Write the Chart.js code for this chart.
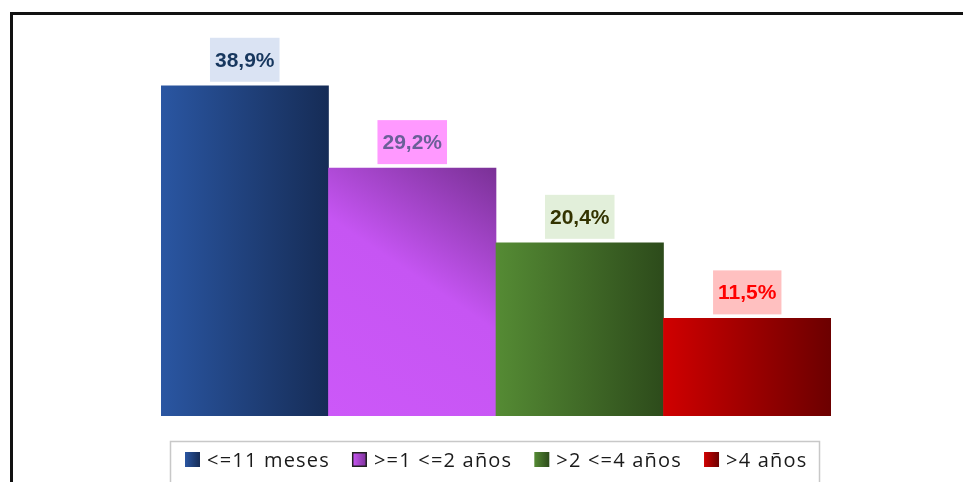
<!DOCTYPE html>
<html>
<head>
<meta charset="utf-8">
<script src="https://cdn.jsdelivr.net/npm/chart.js@4"></script>
<style>
  html, body { margin: 0; padding: 0; background: #fff; }
  #wrap { width: 963px; height: 482px; }
</style>
</head>
<body>
<div id="wrap"><canvas id="chart" width="963" height="482"></canvas></div>
<script>
// chart data
const categories = ["<=11 meses", ">=1 <=2 años", ">2 <=4 años", ">4 años"];
const values = [38.9, 29.2, 20.4, 11.5];
const valueLabels = ["38,9%", "29,2%", "20,4%", "11,5%"];

// colours: [gradient start, gradient end], label box fill, label text
const barColors = [["#2A56A2", "#162C56"], ["#CC58F8", "#7A3196"], ["#558B34", "#2D4B1B"], ["#D00000", "#6C0000"]];
const labelBoxColors = ["#DAE3F3", "#FF99FF", "#E2EFDA", "#FFC0C0"];
const labelTextColors = ["#17375E", "#6A5F98", "#333300", "#FF0000"];

function barGradient(chart, i) {
    const xs = chart.scales.x;
    const ys = chart.scales.y;
    const ca = chart.chartArea;
    const w = xs.width / categories.length;
    const cx = xs.getPixelForValue(i);
    let g;
    if (i === 1) {
        // diagonal shading on the purple bar
        const top = ys.getPixelForValue(values[i]);
        g = chart.ctx.createLinearGradient(cx - w / 2, ca.bottom, cx + w / 2, top);
        g.addColorStop(0, barColors[i][0]);
        g.addColorStop(0.55, "#C655F3");
        g.addColorStop(1, barColors[i][1]);
    } else {
        g = chart.ctx.createLinearGradient(cx - w / 2, 0, cx + w / 2, 0);
        g.addColorStop(0, barColors[i][0]);
        g.addColorStop(1, barColors[i][1]);
    }
    return g;
}

// frame around the whole thing
const framePlugin = {
    id: "frame",
    beforeDraw(chart) {
        const c = chart.ctx;
        c.save();
        c.strokeStyle = "#111";
        c.lineWidth = 3;
        c.beginPath();
        c.moveTo(11.5, 482);
        c.lineTo(11.5, 13.5);
        c.lineTo(963, 13.5);
        c.stroke();
        c.restore();
    }
};

// value labels with coloured boxes
const valueLabelPlugin = {
    id: "valueLabels",
    afterDatasetsDraw(chart) {
        const c = chart.ctx;
        const meta = chart.getDatasetMeta(0);
        c.save();
        c.font = "bold 21px 'Liberation Sans', Arial, sans-serif";
        c.textAlign = "center";
        c.textBaseline = "middle";
        meta.data.forEach((bar, i) => {
            const tw = c.measureText(valueLabels[i]).width;
            const bw = tw + 10, bh = 44;
            const bottom = bar.y - 4;
            c.fillStyle = labelBoxColors[i];
            c.fillRect(bar.x - bw / 2, bottom - bh, bw, bh);
            c.fillStyle = labelTextColors[i];
            c.fillText(valueLabels[i], bar.x, bottom - bh / 2 + 1);
        });
        c.restore();
    }
};

// legend in a grey box under the bars
const legendPlugin = {
    id: "boxLegend",
    afterDraw(chart) {
        const c = chart.ctx;
        c.save();
        c.strokeStyle = "#C8C8C8";
        c.lineWidth = 1.5;
        c.strokeRect(170.5, 441.5, 649, 60);
        c.font = "20px 'Open Sans', sans-serif";
        c.letterSpacing = "1.2px";
        c.textBaseline = "middle";
        let x = 185;
        const y = 460;
        categories.forEach((cat, i) => {
            const g = c.createLinearGradient(x, 0, x + 15, 0);
            g.addColorStop(0, barColors[i][0]);
            g.addColorStop(1, barColors[i][1]);
            c.fillStyle = g;
            c.fillRect(x, y - 8, 15, 15);
            if (i === 1) {
                c.strokeStyle = "#222";
                c.lineWidth = 1.5;
                c.strokeRect(x + 0.75, y - 7.25, 13.5, 13.5);
            }
            c.fillStyle = "#1a1a1a";
            c.fillText(cat, x + 22, y + 1);
            x += 22 + c.measureText(cat).width + 22;
        });
        c.restore();
    }
};

new Chart(document.getElementById("chart"), {
    type: "bar",
    data: {
        labels: categories,
        datasets: [{
            data: values,
            backgroundColor: ctx => {
                const ch = ctx.chart;
                if (!ch.chartArea) return barColors[ctx.dataIndex][0];
                return barGradient(ch, ctx.dataIndex);
            },
            borderWidth: 0,
            barPercentage: 1,
            categoryPercentage: 1
        }]
    },
    options: {
        responsive: false,
        animation: false,
        layout: { padding: { left: 161, right: 132, top: 34, bottom: 66 } },
        scales: {
            x: { display: false },
            y: { display: false, min: 0, max: 45 }
        },
        plugins: {
            legend: { display: false },
            tooltip: { enabled: false }
        }
    },
    plugins: [framePlugin, valueLabelPlugin, legendPlugin]
});
</script>
</body>
</html>
